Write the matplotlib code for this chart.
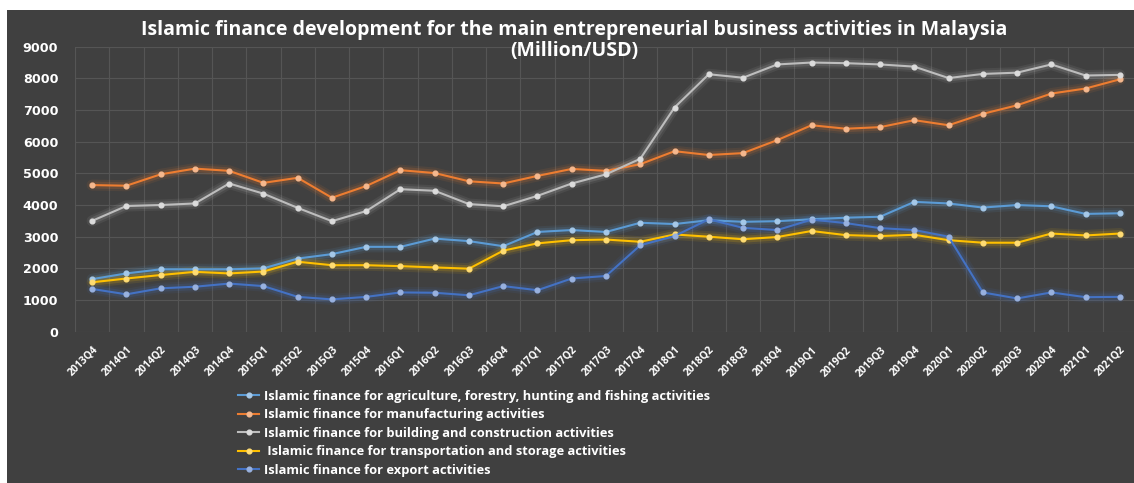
import matplotlib
matplotlib.use("Agg")
import matplotlib.pyplot as plt
from matplotlib.patches import Rectangle
from matplotlib.transforms import ScaledTranslation
from matplotlib.colors import to_rgb

# Quarterly periods
quarters = ["2013Q4",
            "2014Q1", "2014Q2", "2014Q3", "2014Q4",
            "2015Q1", "2015Q2", "2015Q3", "2015Q4",
            "2016Q1", "2016Q2", "2016Q3", "2016Q4",
            "2017Q1", "2017Q2", "2017Q3", "2017Q4",
            "2018Q1", "2018Q2", "2018Q3", "2018Q4",
            "2019Q1", "2019Q2", "2019Q3", "2019Q4",
            "2020Q1", "2020Q2", "2020Q3", "2020Q4",
            "2021Q1", "2021Q2"]

# Islamic financing by activity (Million USD)
agriculture = [1660, 1840, 1970, 1970, 1970, 2000, 2310, 2450, 2680,
               2680, 2940, 2860, 2700, 3150, 3210, 3150, 3440, 3400,
               3520, 3470, 3490, 3550, 3600, 3630, 4100, 4050, 3920,
               4000, 3960, 3720, 3740]
manufacturing = [4630, 4610, 4970, 5150, 5080, 4700, 4860, 4230, 4600,
                 5100, 5010, 4750, 4680, 4920, 5140, 5080, 5290, 5700,
                 5580, 5640, 6050, 6520, 6410, 6460, 6680, 6520, 6880,
                 7150, 7520, 7680, 7970]
construction = [3500, 3970, 4000, 4050, 4680, 4360, 3910, 3490, 3810,
                4500, 4450, 4030, 3960, 4290, 4680, 4970, 5460, 7080,
                8130, 8020, 8440, 8500, 8480, 8440, 8370, 8010, 8140,
                8180, 8440, 8090, 8110]
transportation = [1560, 1680, 1790, 1890, 1840, 1900, 2210, 2100, 2100,
                  2070, 2030, 1990, 2560, 2790, 2890, 2910, 2840, 3070,
                  3000, 2920, 2990, 3180, 3050, 3020, 3060, 2890, 2810,
                  2810, 3100, 3040, 3100]
export = [1350, 1180, 1370, 1420, 1520, 1440, 1100, 1020, 1100,
          1240, 1230, 1150, 1440, 1310, 1680, 1760, 2730, 3020,
          3550, 3280, 3210, 3540, 3430, 3270, 3210, 3000, 1240,
          1050, 1240, 1090, 1100]

labels = [
    "Islamic finance for agriculture, forestry, hunting and fishing activities",
    "Islamic finance for manufacturing activities",
    "Islamic finance for building and construction activities",
    " Islamic finance for transportation and storage activities",
    "Islamic finance for export activities",
]
series = [agriculture, manufacturing, construction, transportation, export]
colors = ["#5B9BD5", "#ED7D31", "#BDBDBD", "#FFC000", "#4472C4"]

W, H = 1134, 483
BG = "#404040"
FONT = "Open Sans"

fig = plt.figure(figsize=(W / 100, H / 100), dpi=100, facecolor="white")

# dark chart panel inside a thin white margin
fig.patches.append(Rectangle((7 / W, 0), 1 - 7 / W, 1 - 10 / H,
                             transform=fig.transFigure, facecolor=BG,
                             edgecolor="none", zorder=-10))

ax = fig.add_axes([75 / W, 1 - 331.7 / H, (1137 - 75) / W, (331.7 - 46.7) / H])
ax.set_facecolor("none")

x = list(range(len(quarters)))


def lighten(c, f):
    r, g, b = to_rgb(c)
    return (r + (1 - r) * f, g + (1 - g) * f, b + (1 - b) * f)


for vals, col, lab in zip(series, colors, labels):
    # soft glow around each line
    for lw, a in [(8, 0.09), (5, 0.16)]:
        ax.plot(x, vals, color=col, lw=lw, alpha=a, solid_capstyle="round",
                solid_joinstyle="round", zorder=2)
    ax.plot(x, vals, color=col, lw=1.5, marker="o", markersize=3.4,
            markerfacecolor=lighten(col, 0.45), markeredgecolor=lighten(col, 0.45),
            label=lab, zorder=3)

ax.set_xlim(-0.5, len(quarters) - 0.5)
ax.set_ylim(0, 9000)
ax.set_yticks(range(0, 9001, 1000))
ax.set_xticks(x)
ax.set_xticklabels(quarters)

# gridlines: horizontal at each 1000, vertical between categories
grid_c = "#555555"
for yv in range(0, 9001, 1000):
    ax.axhline(yv, color=grid_c, lw=0.8, zorder=1)
for xv in [i - 0.5 for i in range(len(quarters) + 1)]:
    ax.axvline(xv, color=grid_c, lw=0.8, zorder=1)

for s in ax.spines.values():
    s.set_visible(False)
ax.tick_params(axis="both", length=0, colors="white")
ax.tick_params(axis="y", pad=12)
for t in ax.get_yticklabels():
    t.set_fontfamily("DejaVu Sans")
    t.set_fontweight("bold")
    t.set_fontsize(9.2)
    t.set_color("white")
offset = ScaledTranslation(4 / 100, 0, fig.dpi_scale_trans)
for t in ax.get_xticklabels():
    t.set_fontfamily(FONT)
    t.set_fontweight("bold")
    t.set_fontsize(7.4)
    t.set_color("white")
    t.set_rotation(45)
    t.set_ha("right")
    t.set_va("top")
    t.set_rotation_mode("anchor")
    t.set_transform(t.get_transform() + offset)
ax.tick_params(axis="x", pad=9)

fig.text(574 / W, 1 - 30 / H,
         "Islamic finance development for the main entrepreneurial business activities in Malaysia",
         ha="center", va="center", color="white", fontsize=14,
         fontweight="bold", family=FONT)
fig.text(574 / W, 1 - 51 / H, "(Million/USD)", ha="center", va="center",
         color="white", fontsize=14, fontweight="bold", family=FONT)

leg = fig.legend(loc="upper left", bbox_to_anchor=(238 / W, 1 - 390 / H),
                 frameon=False, handlelength=1.65,
                 handletextpad=0.4, labelspacing=0.42, borderpad=0,
                 borderaxespad=0, prop={"family": FONT, "weight": "bold", "size": 9.3})
for txt in leg.get_texts():
    txt.set_color("white")

fig.savefig("out.png", dpi=100, facecolor=fig.get_facecolor())
